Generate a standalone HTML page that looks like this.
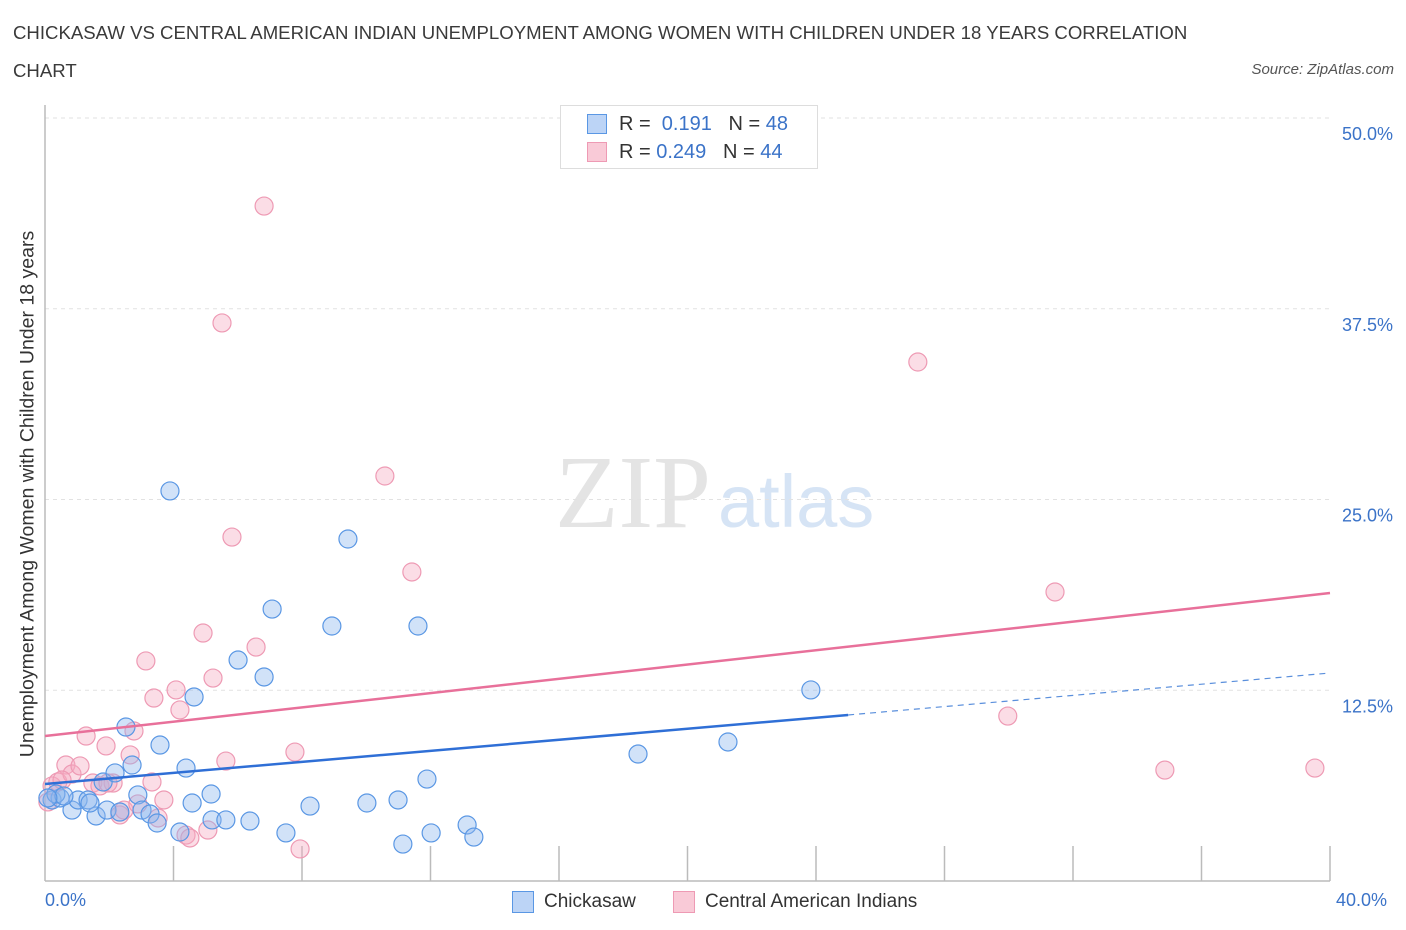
<!DOCTYPE html>
<html><head><meta charset="utf-8"><style>
body{margin:0;background:#fff;font-family:"Liberation Sans",sans-serif;}
#wrap{position:relative;width:1406px;height:930px;overflow:hidden;}
.t{position:absolute;white-space:nowrap;}
</style></head><body>
<div id="wrap">
<div class="t" style="left:13px;top:14px;font-size:18.6px;color:#3a3a3a;line-height:38px;">CHICKASAW VS CENTRAL AMERICAN INDIAN UNEMPLOYMENT AMONG WOMEN WITH CHILDREN UNDER 18 YEARS CORRELATION<br>CHART</div>
<div class="t" style="right:12px;top:61px;font-size:15px;color:#555;font-style:italic;">Source: ZipAtlas.com</div>
<svg id="svg" width="1406" height="930" style="position:absolute;left:0;top:0;"></svg>
</div>
<script>
const blueX=[0.22,0.47,0.84,1.03,1.34,1.59,1.81,1.93,2.18,2.33,2.52,2.71,2.89,3.02,3.27,3.49,3.58,3.89,4.20,4.39,4.58,4.64,5.17,5.20,5.63,6.01,6.38,6.82,7.07,7.50,8.25,8.93,9.43,10.02,10.99,11.14,11.61,11.89,12.02,13.14,13.35,18.46,21.26,23.84,0.34,0.59,0.09,1.40];
const blueY=[5.31,5.44,4.65,5.31,5.31,4.26,6.49,4.65,7.08,4.52,10.09,7.60,5.64,4.65,4.39,3.80,8.91,25.56,3.21,7.40,5.11,12.06,5.70,4.00,4.00,14.48,3.93,13.37,17.82,3.15,4.91,16.71,22.41,5.11,5.31,2.42,16.71,6.68,3.15,3.67,2.88,8.32,9.11,12.52,5.70,5.57,5.44,5.11];
const pinkX=[0.09,0.22,0.40,0.65,0.84,1.09,1.28,1.49,1.71,1.90,2.12,2.33,2.46,2.77,2.65,2.89,3.14,3.33,3.39,3.52,3.70,4.08,4.20,4.39,4.51,4.92,5.07,5.23,5.51,5.63,5.82,6.57,6.82,7.78,7.94,10.58,11.42,27.17,29.97,31.44,34.86,39.53,0.53,1.96];
const pinkY=[5.18,6.23,6.49,7.60,7.01,7.54,9.50,6.42,6.23,8.85,6.42,4.33,4.65,9.83,8.26,5.05,14.42,6.49,11.99,4.13,5.31,12.52,11.21,3.01,2.82,16.25,3.34,13.30,36.57,7.86,22.54,15.33,44.23,8.45,2.10,26.54,20.25,34.01,10.81,18.94,7.27,7.40,6.62,6.42];
const blueTrend=[6.36,10.88,13.63]; // at x=0, x=25, x=40
const pinkTrend=[9.50,18.87]; // at x=0, x=40
const yTicks=[12.5,25,37.5,50];
const yTickLabels=["12.5%","25.0%","37.5%","50.0%"];
const X=v=>45+v/40*1285, Y=v=>881-v/50*763;
const svg=document.getElementById('svg');const NS='http://www.w3.org/2000/svg';
function mk(tag,attrs,parent){const e=document.createElementNS(NS,tag);for(const k in attrs)e.setAttribute(k,attrs[k]);(parent||svg).appendChild(e);return e;}
let w=mk('text',{x:555,y:527,'font-size':104,fill:'#e4e4e4','font-family':'Liberation Serif'});w.textContent='ZIP';


w=mk('text',{x:718,y:527,'font-size':74,fill:'#d6e4f5','font-family':'Liberation Sans'});w.textContent='atlas';


yTicks.forEach((t,i)=>{
 let g=mk('line',{x1:45,x2:1330,y1:Y(t),y2:Y(t),stroke:'#e2e2e2','stroke-dasharray':'4,4'});
 
 
 let l=mk('text',{x:1393,y:Y(t)+22,'text-anchor':'end','font-size':18,fill:'#3b73c8'});l.textContent=yTickLabels[i];
 
 
});
let a=mk('line',{x1:45,x2:45,y1:105,y2:881,stroke:'#bbb','stroke-width':1.5});


a=mk('line',{x1:45,x2:1330,y1:881,y2:881,stroke:'#bbb','stroke-width':1.5});


for(let i=1;i<=10;i++){let t=mk('line',{x1:X(i*4),x2:X(i*4),y1:846,y2:881,stroke:'#bbb','stroke-width':1.5});
 
 }
function dots(xs,ys,fill,stroke,name){xs.forEach((x,i)=>{let c=mk('circle',{cx:X(x),cy:Y(ys[i]),r:9,fill:fill,stroke:stroke,'stroke-width':1.2});
 
 });}
dots(pinkX,pinkY,'rgba(246,170,192,0.4)','#ee9ab4','central-american-point');
dots(blueX,blueY,'rgba(140,182,238,0.4)','#5a97e4','chickasaw-point');
let ln=mk('line',{x1:X(0),y1:Y(pinkTrend[0]),x2:X(40),y2:Y(pinkTrend[1]),stroke:'#e8709a','stroke-width':2.5});


ln=mk('line',{x1:X(0),y1:Y(blueTrend[0]),x2:X(25),y2:Y(blueTrend[1]),stroke:'#2f6fd6','stroke-width':2.5});


ln=mk('line',{x1:X(25),y1:Y(blueTrend[1]),x2:X(40),y2:Y(blueTrend[2]),stroke:'#5a8fdc','stroke-width':1.2,'stroke-dasharray':'6,5'});


</script>
<div class="t" style="left:45px;top:890px;font-size:18px;color:#3b73c8;">0.0%</div>
<div class="t" style="left:1336px;top:890px;font-size:18px;color:#3b73c8;">40.0%</div>
<div class="t" style="left:28px;top:494px;font-size:19.5px;color:#333;transform:translate(-50%,-50%) rotate(-90deg);">Unemployment Among Women with Children Under 18 years</div>
<div style="position:absolute;left:560px;top:105px;width:256px;height:62px;border:1px solid #ddd;background:#fff;font-size:20px;">
 <div style="position:absolute;left:26px;top:8px;width:18px;height:18px;background:#bcd4f6;border:1px solid #5a97e4;"></div>
 <div class="t" style="left:58px;top:7px;color:#333;">R = &nbsp;<span style="color:#3b73c8">0.191</span> &nbsp;&nbsp;N = <span style="color:#3b73c8">48</span></div>
 <div style="position:absolute;left:26px;top:36px;width:18px;height:18px;background:#f9cad7;border:1px solid #ee9ab4;"></div>
 <div class="t" style="left:58px;top:35px;color:#333;">R = <span style="color:#3b73c8">0.249</span> &nbsp;&nbsp;N = <span style="color:#3b73c8">44</span></div>
</div>
<div style="position:absolute;left:512px;top:891px;width:20px;height:20px;background:#bcd4f6;border:1px solid #5a97e4;"></div>
<div class="t" style="left:544px;top:891px;font-size:19px;color:#333;">Chickasaw</div>
<div style="position:absolute;left:673px;top:891px;width:20px;height:20px;background:#f9cad7;border:1px solid #ee9ab4;"></div>
<div class="t" style="left:705px;top:891px;font-size:19px;color:#333;">Central American Indians</div>
</body></html>
